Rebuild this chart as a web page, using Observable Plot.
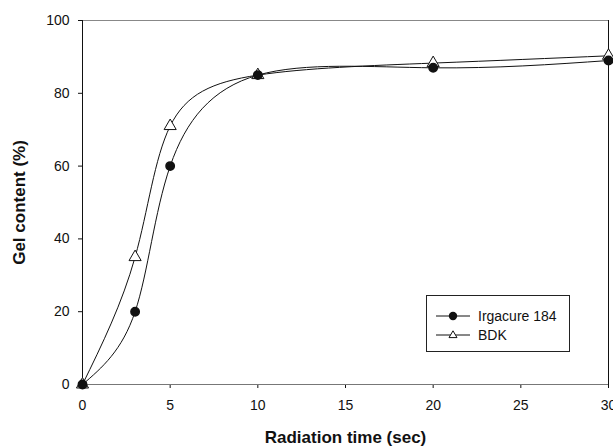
<!DOCTYPE html>
<html>
<head>
<meta charset="utf-8">
<script src="https://cdn.jsdelivr.net/npm/d3@7"></script>
<script src="https://cdn.jsdelivr.net/npm/@observablehq/plot@0.6"></script>
<style>
  html, body { margin: 0; padding: 0; background: #fff; }
  #wrap { position: relative; width: 613px; height: 447px; font-family: "Liberation Sans", Arial, sans-serif; }
  #legend { position: absolute; left: 426px; top: 295px; width: 144px; height: 57px; border: 1px solid #222; box-sizing: border-box; background: #fff; }
  .row { position: absolute; left: 0; height: 16px; display: flex; align-items: center; font-size: 14px; color: #111; }
  .row svg { margin-left: 9px; margin-right: 8px; }
</style>
</head>
<body>
<div id="wrap"></div>
<script>
const times = [0, 3, 5, 10, 20, 30];
const irgacure = [0, 20, 60, 85, 87, 89];
const bdk = [0, 35, 71, 85, 88.3, 90.3];
const seriesNames = ["Irgacure 184", "BDK"];
const xTicks = [0, 5, 10, 15, 20, 25, 30];
const yTicks = [0, 20, 40, 60, 80, 100];

const irgData = times.map((t, i) => ({t, v: irgacure[i]}));
const bdkData = times.map((t, i) => ({t, v: bdk[i]}));

const chart = Plot.plot({
  width: 613,
  height: 447,
  marginLeft: 82,
  marginRight: 5,
  marginTop: 20,
  marginBottom: 63,
  style: {fontFamily: "'Liberation Sans', Arial, sans-serif", fontSize: "14px", color: "#111", background: "white"},
  x: {domain: [0, 30], ticks: xTicks, tickSize: 4, tickPadding: 12, label: "Radiation time (sec)", labelArrow: false, labelAnchor: "center", labelOffset: 58},
  y: {domain: [0, 100], ticks: yTicks, tickSize: 4, tickPadding: 9, label: "Gel content (%)", labelArrow: false, labelAnchor: "center", labelOffset: 70},
  marks: [
    Plot.ruleY([100], {stroke: "#888", strokeWidth: 1}),
    Plot.ruleX([30], {stroke: "#111", strokeWidth: 1}),
    Plot.ruleY([0], {stroke: "#777", strokeWidth: 1}),
    Plot.ruleX([0], {stroke: "#111", strokeWidth: 1}),
    Plot.line(bdkData, {x: "t", y: "v", curve: "natural", stroke: "#111", strokeWidth: 1}),
    Plot.line(irgData, {x: "t", y: "v", curve: "natural", stroke: "#111", strokeWidth: 1}),
    Plot.dot(bdkData, {x: "t", y: "v", symbol: "triangle", r: 4.5, fill: "white", stroke: "#111", strokeWidth: 1}),
    Plot.dot(irgData, {x: "t", y: "v", symbol: "circle", r: 4.2, fill: "#111", stroke: "#111"})
  ]
});
chart.querySelectorAll("[aria-label='x-axis label'] text, [aria-label='y-axis label'] text").forEach(t => {
  t.style.fontWeight = "bold";
  t.style.fontSize = "17px";
});
const wrap = document.getElementById("wrap");
wrap.appendChild(chart);

const legend = document.createElement("div");
legend.id = "legend";
const symbols = [
  '<circle cx="17" cy="8" r="4.2" fill="#111"/>',
  '<path d="M17,3.8 L21,10.6 L13,10.6 Z" fill="white" stroke="#111"/>'
];
seriesNames.forEach((name, i) => {
  const row = document.createElement("div");
  row.className = "row";
  row.style.top = (12 + i * 19) + "px";
  row.innerHTML = '<svg width="34" height="16"><line x1="0" x2="34" y1="8" y2="8" stroke="#111"/>' + symbols[i] + '</svg><span>' + name + '</span>';
  legend.appendChild(row);
});
wrap.appendChild(legend);
</script>
</body>
</html>
